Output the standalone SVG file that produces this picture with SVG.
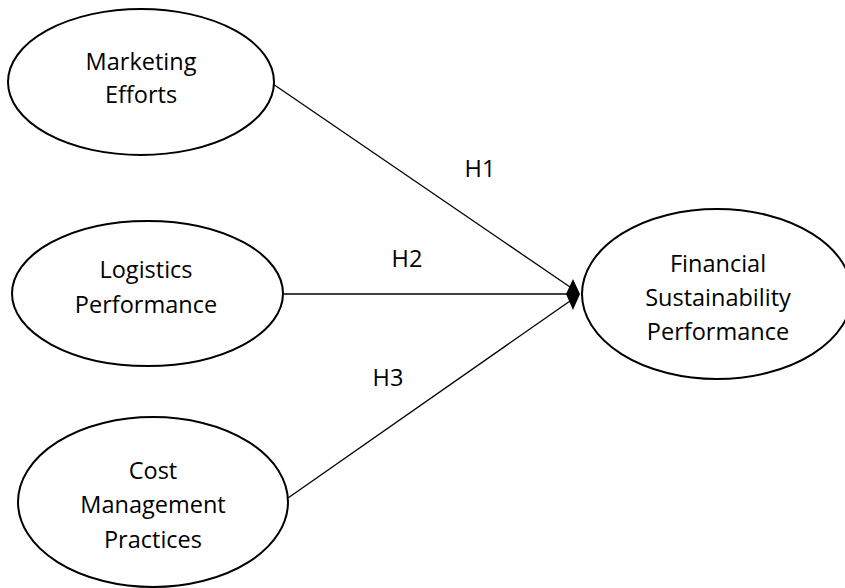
<svg xmlns="http://www.w3.org/2000/svg" width="845" height="588" viewBox="0 0 845 588">
<style>
.node{fill:#fff;stroke:#000;stroke-width:2}
.lbl{font-family:"Open Sans","Noto Sans","Liberation Sans",sans-serif;font-size:23.5px;fill:#000;text-anchor:middle}
.conn{stroke:#000;stroke-width:1.3;fill:none}
</style>
<rect width="845" height="588" fill="#fff"/>
<g id="connectors">
<line class="conn" x1="273" y1="84" x2="570" y2="287"/>
<line class="conn" x1="283" y1="294" x2="570" y2="294"/>
<line class="conn" x1="288" y1="498" x2="570" y2="301"/>
<polygon points="566,294 573,279 580,294 573,310" fill="#000"/>
<text class="lbl" x="480" y="177">H1</text>
<text class="lbl" x="407" y="267">H2</text>
<text class="lbl" x="388" y="386">H3</text>
</g>
<g id="marketing">
<ellipse class="node" cx="141" cy="82" rx="133" ry="73"/>
<text class="lbl" x="141" y="70">Marketing</text>
<text class="lbl" x="141" y="103">Efforts</text>
</g>
<g id="logistics">
<ellipse class="node" cx="147.5" cy="293.5" rx="135.5" ry="72.5"/>
<text class="lbl" x="146" y="278">Logistics</text>
<text class="lbl" x="146" y="313">Performance</text>
</g>
<g id="cost">
<ellipse class="node" cx="153" cy="502" rx="135" ry="85"/>
<text class="lbl" x="153" y="479">Cost</text>
<text class="lbl" x="153" y="513">Management</text>
<text class="lbl" x="153" y="548">Practices</text>
</g>
<g id="financial">
<ellipse class="node" cx="717" cy="294" rx="135" ry="85"/>
<text class="lbl" x="718" y="272">Financial</text>
<text class="lbl" x="718" y="306">Sustainability</text>
<text class="lbl" x="718" y="340">Performance</text>
</g>
</svg>
